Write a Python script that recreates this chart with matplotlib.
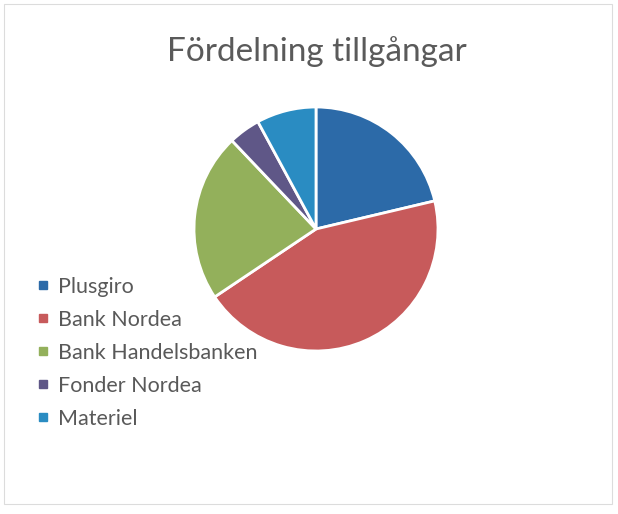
import matplotlib.pyplot as plt
from matplotlib.lines import Line2D
from matplotlib.patches import Rectangle

title = "Fördelning tillgångar"
labels = ["Plusgiro", "Bank Nordea", "Bank Handelsbanken", "Fonder Nordea", "Materiel"]
values = [21.3, 44.3, 22.3, 4.2, 7.9]
colors = ["#2c6aa8", "#c75a5b", "#93b05b", "#5f5787", "#2a8cc2"]

plt.rcParams['font.family'] = ['Lato', 'DejaVu Sans']

fig = plt.figure(figsize=(6.18, 5.14), dpi=100)
fig.patch.set_facecolor("white")

# faint frame of the chart area
fig.add_artist(Rectangle((0.006, 0.02), 0.985, 0.972, transform=fig.transFigure,
                         fill=False, edgecolor="#dcdcdc", linewidth=0.8))

# pie centre ~(316, 229) px, radius ~122 px
ax = fig.add_axes([194 / 618, (514 - 229 - 122) / 514, 244 / 618, 244 / 514])
wedges, _ = ax.pie(values, colors=colors, startangle=90, counterclock=False,
                   radius=1.0, wedgeprops=dict(edgecolor="white", linewidth=2))
ax.set_xlim(-1, 1)
ax.set_ylim(-1, 1)
ax.set_aspect("equal")

fig.text(0.512, 0.9, title, ha="center", va="center", fontsize=24, color="#5a5a5a")

handles = [Line2D([], [], marker="s", linestyle="none", markersize=6,
                  markerfacecolor=c, markeredgecolor=c) for c in colors]
leg = fig.legend(handles, labels, loc="upper left", bbox_to_anchor=(0.045, 0.482),
                 frameon=False, fontsize=15.5, labelcolor="#595959",
                 handlelength=0.45, handletextpad=0.45, labelspacing=0.6,
                 borderpad=0)

fig.savefig("out.png", dpi=100, facecolor="white")
